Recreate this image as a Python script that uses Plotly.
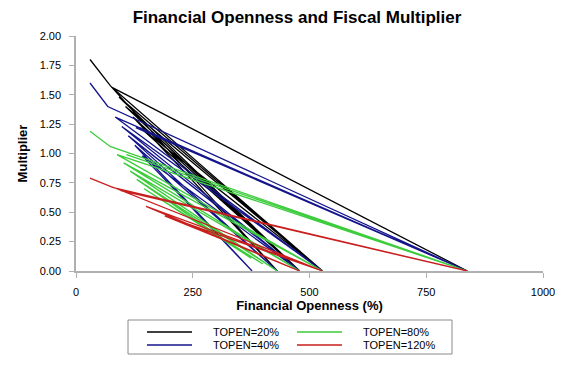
import plotly.graph_objects as go

# Series data (Financial Openness %, Multiplier)
names = ["TOPEN=20%", "TOPEN=40%", "TOPEN=80%", "TOPEN=120%"]
colors = ["#000000", "#14148c", "#3ccc3c", "#c81e1e"]

fo_20 = [30, 73, 431, 122, 479, 106, 528, 138, 479, 92, 528, 76, 838]
mult_20 = [1.80, 1.58, 0.00, 1.31, 0.00, 1.40, 0.00, 1.22, 0.00, 1.48, 0.00, 1.565, 0.00]

fo_40 = [30, 68, 838, 128, 838, 84, 528, 98, 479, 112, 431, 126, 377, 142, 479]
mult_40 = [1.60, 1.40, 0.00, 1.22, 0.00, 1.31, 0.00, 1.23, 0.00, 1.15, 0.00, 1.07, 0.00, 0.98, 0.00]

fo_80 = [30, 73, 838, 108, 838, 88, 528, 102, 479, 116, 431, 130, 375, 146, 400]
mult_80 = [1.19, 1.06, 0.00, 0.99, 0.00, 0.99, 0.00, 0.92, 0.00, 0.85, 0.00, 0.78, 0.11, 0.70, 0.06]

fo_120 = [30, 80, 838, 96, 838, 88, 528, 78, 528, 150, 479, 190, 528]
mult_120 = [0.79, 0.71, 0.00, 0.685, 0.00, 0.70, 0.00, 0.715, 0.00, 0.55, 0.00, 0.47, 0.00]

xs = [fo_20, fo_40, fo_80, fo_120]
ys = [mult_20, mult_40, mult_80, mult_120]

x_ticks = [0, 250, 500, 750, 1000]
y_ticks = [0, 0.25, 0.5, 0.75, 1.0, 1.25, 1.5, 1.75, 2.0]

# legend layout: (column, row) per series
legend_pos = [(0, 0), (0, 1), (1, 0), (1, 1)]

fig = go.Figure()
for n, c, x, y in zip(names, colors, xs, ys):
    fig.add_trace(go.Scatter(x=x, y=y, mode="lines", name=n, showlegend=False,
                             line=dict(color=c, width=1.3)))

axis_common = dict(showgrid=False, zeroline=False, showline=True, linecolor="#b0b0b0",
                   linewidth=1.5, ticks="outside", ticklen=5, tickcolor="#b0b0b0",
                   tickfont=dict(size=11, color="#000"), automargin=False)

# page offset (browser body margin) and figure size
OFF = 8
FW, FH = 580 - OFF, 367 - OFF
# plot area in screen pixels
L, R, T, B = 76, 543, 36, 271
W, H = R - L, B - T
def px_x(p): return (p - L) / W
def px_y(p): return (B - p) / H

shapes = [dict(type="rect", xref="paper", yref="paper",
               x0=px_x(128), x1=px_x(452), y0=px_y(354), y1=px_y(320),
               line=dict(color="#8a8a8a", width=1), fillcolor="white")]
annotations = []
col_line_x = [(147, 192), (297, 342)]
col_text_x = [211, 361]
row_y = [332, 345]
for n, c, (ci, ri) in zip(names, colors, legend_pos):
    shapes.append(dict(type="line", xref="paper", yref="paper",
                       x0=px_x(col_line_x[ci][0]), x1=px_x(col_line_x[ci][1]),
                       y0=px_y(row_y[ri]), y1=px_y(row_y[ri]),
                       line=dict(color=c, width=1.3)))
    annotations.append(dict(xref="paper", yref="paper", x=px_x(col_text_x[ci]), y=px_y(row_y[ri]),
                            xanchor="left", yanchor="middle", showarrow=False, text=n,
                            font=dict(size=11, color="#000")))

fig.update_layout(
    width=FW, height=FH,
    margin=dict(l=L - OFF, r=FW + OFF - R, t=T - OFF, b=FH + OFF - B),
    paper_bgcolor="white", plot_bgcolor="white",
    font=dict(family="Liberation Sans, Arial, sans-serif", color="#000"),
    title=dict(text="<b>Financial Openness and Fiscal Multiplier</b>",
               x=(297 - OFF) / FW, xanchor="center",
               y=1 - (17 - OFF) / FH, yanchor="middle", font=dict(size=17)),
    xaxis=dict(range=[0, 1000], tickvals=x_ticks, ticktext=[str(v) for v in x_ticks],
               ticklabelstandoff=5,
               title=dict(text="<b>Financial Openness (%)</b>", font=dict(size=13), standoff=0),
               **axis_common),
    yaxis=dict(range=[0, 2], tickvals=y_ticks, ticktext=["%.2f" % v for v in y_ticks],
               ticklabelstandoff=6,
               title=dict(text="<b>Multiplier</b>", font=dict(size=13), standoff=9),
               **axis_common),
    shapes=shapes,
    annotations=annotations,
    showlegend=False,
)

fig.write_html("out.html")
